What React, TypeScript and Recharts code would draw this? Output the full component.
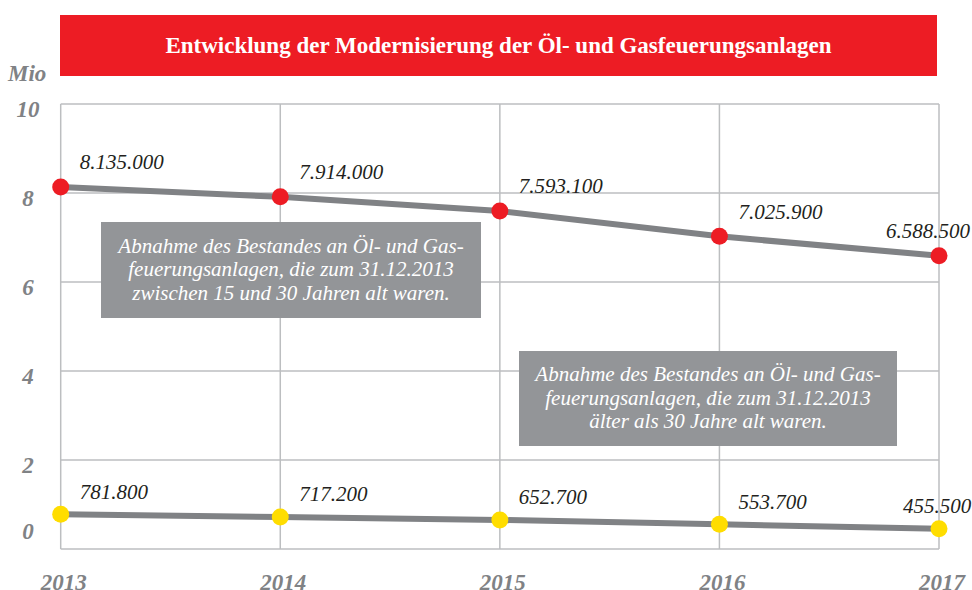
import { CartesianGrid, LabelList, Line, LineChart, XAxis, YAxis } from "recharts";

const years = ["2013", "2014", "2015", "2016", "2017"];
const alter15bis30 = [8135000, 7914000, 7593100, 7025900, 6588500];
const aelter30 = [781800, 717200, 652700, 553700, 455500];
const yTicks = [0, 2, 4, 6, 8, 10];

const TITLE = "Entwicklung der Modernisierung der Öl- und Gasfeuerungsanlagen";
const NOTE_TOP = [
  "Abnahme des Bestandes an Öl- und Gas-",
  "feuerungsanlagen, die zum 31.12.2013",
  "zwischen 15 und 30 Jahren alt waren.",
];
const NOTE_BOTTOM = [
  "Abnahme des Bestandes an Öl- und Gas-",
  "feuerungsanlagen, die zum 31.12.2013",
  "älter als 30 Jahre alt waren.",
];

const data = years.map((year, i) => ({
  year,
  mid: alter15bis30[i] / 1e6,
  old: aelter30[i] / 1e6,
}));

const SERIF = "Liberation Serif, Times New Roman, serif";
const GREY_TEXT = "#808285";
const LINE_GREY = "#808285";
const GRID = "#bcbec0";

const fmt = (n: number) => String(n).replace(/\B(?=(\d{3})+(?!\d))/g, ".");

function YTick({ y, payload }: any) {
  const shift = payload.value === 0 ? -18 : 5;
  return (
    <text
      x={28}
      y={y + shift}
      dy="0.35em"
      textAnchor="middle"
      fontFamily={SERIF}
      fontStyle="italic"
      fontWeight="bold"
      fontSize={23}
      fill={GREY_TEXT}
    >
      {payload.value}
    </text>
  );
}

function XTick({ x, y, payload }: any) {
  return (
    <text
      x={x + 3}
      y={y + 25}
      dy="0.35em"
      textAnchor="middle"
      fontFamily={SERIF}
      fontStyle="italic"
      fontWeight="bold"
      fontSize={23}
      fill={GREY_TEXT}
    >
      {payload.value}
    </text>
  );
}

const makeLabel = (raw: number[], lastDx: number, dy: number) => (props: any) => {
  const { x, y, index } = props;
  const last = index === raw.length - 1;
  return (
    <text
      x={x + (last ? lastDx : 19)}
      y={y + dy}
      dy="0.35em"
      fontFamily={SERIF}
      fontStyle="italic"
      fontSize={21}
      fill="#231f20"
    >
      {fmt(raw[index])}
    </text>
  );
};

function Note({ lines, left, top, width, height }: any) {
  return (
    <div
      style={{
        position: "absolute",
        left,
        top,
        width,
        height,
        background: "#939598",
        color: "#fff",
        fontFamily: SERIF,
        fontStyle: "italic",
        fontSize: 21,
        lineHeight: "23.5px",
        display: "flex",
        flexDirection: "column",
        justifyContent: "center",
        alignItems: "center",
        textAlign: "center",
      }}
    >
      {lines.map((l: string) => (
        <div key={l}>{l}</div>
      ))}
    </div>
  );
}

export default function App() {
  return (
    <div
      style={{
        position: "absolute",
        left: 0,
        top: 0,
        width: 972,
        height: 590,
        background: "#fff",
        overflow: "hidden",
        fontFamily: SERIF,
      }}
    >
      <LineChart width={972} height={590} data={data} margin={{ top: 104, right: 33, bottom: 0, left: 0.7 }}>
        <CartesianGrid stroke={GRID} strokeWidth={1.5} />
        <XAxis dataKey="year" axisLine={false} tickLine={false} height={41} tick={<XTick />} interval={0} />
        <YAxis
          type="number"
          domain={[0, 10]}
          ticks={yTicks}
          axisLine={false}
          tickLine={false}
          width={60}
          tick={<YTick />}
        />
        <Line
          dataKey="mid"
          stroke={LINE_GREY}
          strokeWidth={6}
          isAnimationActive={false}
          dot={{ r: 8.5, fill: "#ed1c24", stroke: "none" }}
        >
          <LabelList dataKey="mid" content={makeLabel(alter15bis30, -53, -25)} />
        </Line>
        <Line
          dataKey="old"
          stroke={LINE_GREY}
          strokeWidth={6}
          isAnimationActive={false}
          dot={{ r: 8.5, fill: "#ffdd00", stroke: "none" }}
        >
          <LabelList dataKey="old" content={makeLabel(aelter30, -36, -23)} />
        </Line>
      </LineChart>

      <div
        style={{
          position: "absolute",
          left: 60,
          top: 15,
          width: 877,
          height: 61,
          background: "#ed1c24",
          color: "#fff",
          fontFamily: SERIF,
          fontWeight: "bold",
          fontSize: 23,
          display: "flex",
          alignItems: "center",
          justifyContent: "center",
        }}
      >
        {TITLE}
      </div>
      <div
        style={{
          position: "absolute",
          left: 8,
          top: 61,
          fontFamily: SERIF,
          fontStyle: "italic",
          fontWeight: "bold",
          fontSize: 23,
          color: GREY_TEXT,
          lineHeight: "26px",
        }}
      >
        Mio
      </div>
      <Note lines={NOTE_TOP} left={101} top={222} width={380} height={96} />
      <Note lines={NOTE_BOTTOM} left={519} top={351} width={378} height={95} />
    </div>
  );
}
